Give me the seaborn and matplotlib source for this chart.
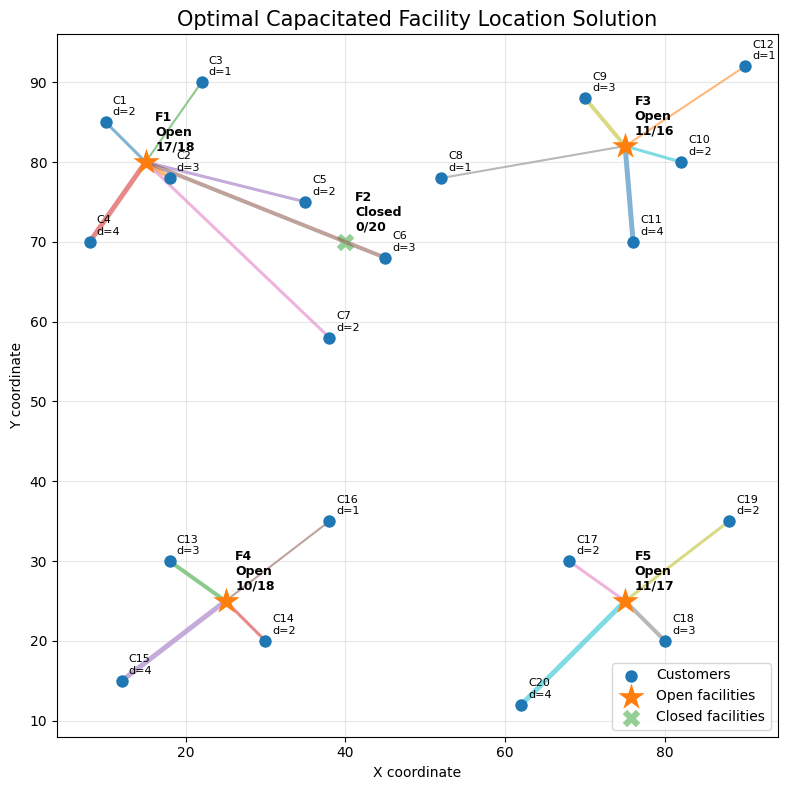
import matplotlib
matplotlib.use("Agg")
import matplotlib.pyplot as plt
import seaborn as sns
import pandas as pd

# customers
cust_names = ["C%d" % i for i in range(1, 21)]
cust_x = [10, 18, 22, 8, 35, 45, 38, 52, 70, 82, 76, 90, 18, 30, 12, 38, 68, 80, 88, 62]
cust_y = [85, 78, 90, 70, 75, 68, 58, 78, 88, 80, 70, 92, 30, 20, 15, 35, 30, 20, 35, 12]
cust_demand = [2, 3, 1, 4, 2, 3, 2, 1, 3, 2, 4, 1, 3, 2, 4, 1, 2, 3, 2, 4]
# facility index each customer is served by
cust_assign = [0, 0, 0, 0, 0, 0, 0, 2, 2, 2, 2, 2, 3, 3, 3, 3, 4, 4, 4, 4]

# facilities
fac_names = ["F1", "F2", "F3", "F4", "F5"]
fac_x = [15, 40, 75, 25, 75]
fac_y = [80, 70, 82, 25, 25]
fac_capacity = [18, 20, 16, 18, 17]
fac_open = [True, False, True, True, True]

customers = pd.DataFrame({"name": cust_names, "x": cust_x, "y": cust_y,
                          "demand": cust_demand, "fac": cust_assign})
facilities = pd.DataFrame({"name": fac_names, "x": fac_x, "y": fac_y,
                           "cap": fac_capacity, "open": fac_open})
facilities["used"] = [customers.loc[customers.fac == i, "demand"].sum() if o else 0
                      for i, o in enumerate(fac_open)]

fig, ax = plt.subplots(figsize=(8, 8), dpi=100)
colors = plt.get_cmap("tab10").colors

# assignment lines
for i, row in customers.iterrows():
    f = facilities.iloc[row.fac]
    ax.plot([row.x, f.x], [row.y, f.y], color=colors[i % 10], alpha=0.55,
            lw=0.8 + 0.7 * row.demand, zorder=1)

sns.scatterplot(data=customers, x="x", y="y", s=80, color="tab:blue",
                linewidth=0, label="Customers", ax=ax, zorder=3)
for _, row in customers.iterrows():
    ax.annotate(f"{row['name']}\nd={row.demand}", (row.x, row.y),
                xytext=(5, 5), textcoords="offset points", fontsize=8)

open_f = facilities[facilities.open]
closed_f = facilities[~facilities.open]
sns.scatterplot(data=open_f, x="x", y="y", s=400, marker="*", color="tab:orange",
                linewidth=0, label="Open facilities", ax=ax, zorder=4)
sns.scatterplot(data=closed_f, x="x", y="y", s=160, marker="X", color="tab:green",
                alpha=0.5, linewidth=0, label="Closed facilities", ax=ax, zorder=0.5)
for _, f in facilities.iterrows():
    status = "Open" if f.open else "Closed"
    ax.annotate(f"{f['name']}\n{status}\n{f.used}/{f.cap}", (f.x, f.y),
                xytext=(7, 8), textcoords="offset points", fontsize=9,
                fontweight="bold")

ax.set_title("Optimal Capacitated Facility Location Solution", fontsize=15)
ax.set_xlabel("X coordinate")
ax.set_ylabel("Y coordinate")
ax.grid(True, alpha=0.3)
ax.legend(loc="lower right")
plt.tight_layout()
plt.savefig("out.png", bbox_inches="tight")
